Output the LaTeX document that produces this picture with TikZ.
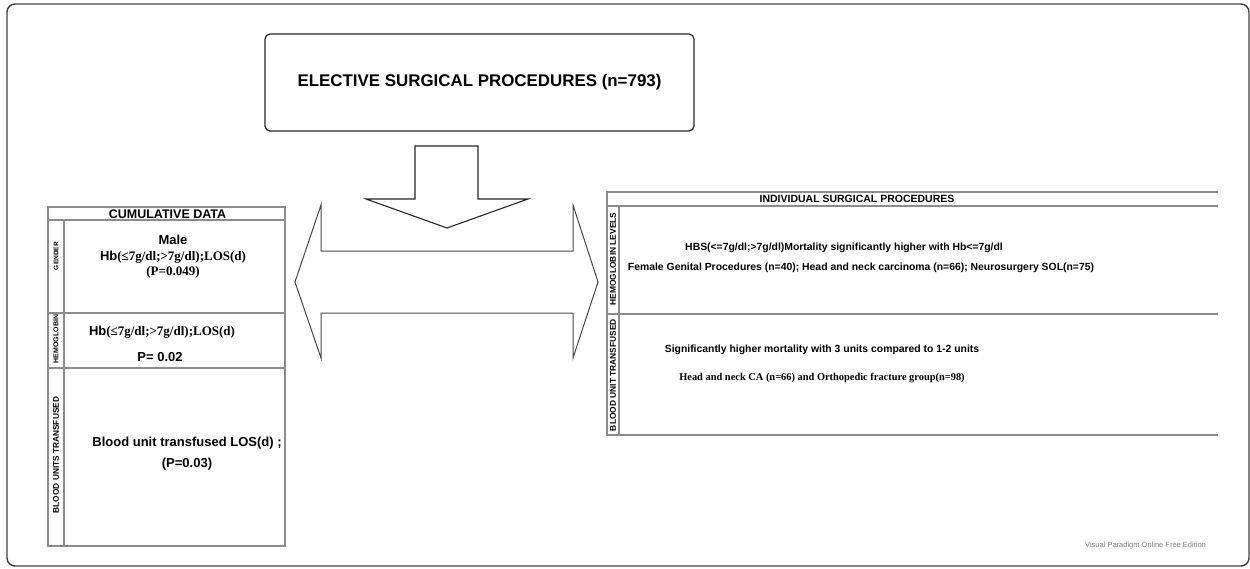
\documentclass[tikz,border=0pt]{standalone}
\usepackage{fontspec}
\setmainfont{Liberation Sans}
\newfontfamily\tnr{Liberation Serif}
\usepackage{tikz}
\usetikzlibrary{positioning}

\begin{document}
\begin{tikzpicture}[x=1pt, y=-1pt]

    \tikzstyle{frame} = [
        draw=black!75,
        line width=1.4pt,
        rounded corners=8pt
    ]
    \tikzstyle{block} = [
        rectangle,
        draw=black!85,
        line width=1.2pt,
        rounded corners=5pt,
        minimum width=429pt,
        minimum height=97pt,
        font=\fontsize{16.9}{19}\selectfont\bfseries
    ]
    \tikzstyle{grid} = [
        draw=black!45,
        line width=1.1pt
    ]
    \tikzstyle{fatarrow} = [
        draw=black!72,
        line width=1pt,
        line join=miter
    ]
    \tikzstyle{hdr} = [
        inner sep=0pt,
        font=\fontsize{10.5}{12}\selectfont\bfseries
    ]
    \tikzstyle{bodyL} = [
        inner sep=0pt,
        align=center,
        font=\fontsize{13}{15.5}\selectfont\bfseries
    ]
    \tikzstyle{bodyR} = [
        inner sep=0pt,
        font=\fontsize{10.4}{12}\selectfont\bfseries
    ]
    \tikzstyle{side} = [
        inner sep=0pt,
        rotate=90,
        font=\bfseries
    ]

    \useasboundingbox (0,0) rectangle (1250,568);
    \draw[frame] (7,4) rectangle (1249,566);

    % top box and arrows
    \node [block] (elec) at (479.5,82.5) {ELECTIVE SURGICAL PROCEDURES (n=793)};

    \draw[fatarrow, draw=black!85, line width=1.1pt]
        (415,146) -- (478,146) -- (478,199) -- (528,199) -- (447,228)
        -- (366,199) -- (415,199) -- cycle;

    \draw[fatarrow]
        (295,282) -- (321,205) -- (321,251) -- (573,251) -- (573,205)
        -- (598,282) -- (573,358) -- (573,313) -- (321,313) -- (321,358) -- cycle;

    % cumulative data table
    \draw[grid] (48,207) rectangle (285,546);
    \draw[grid] (48,220) -- (285,220);
    \draw[grid] (64,220) -- (64,546);
    \draw[grid] (48,313) -- (285,313);
    \draw[grid] (48,368) -- (285,368);

    \node [hdr, font=\fontsize{12.5}{14}\selectfont\bfseries] (cum) at (167.5,214) {CUMULATIVE DATA};
    \node [side, font=\fontsize{6.6}{8}\selectfont\bfseries] (gen) at (56,256) {GENDER};
    \node [side, font=\fontsize{7}{9}\selectfont\bfseries] (hem) at (56,339) {HEMOGLOBIN};
    \node [side, font=\fontsize{8.3}{10}\selectfont\bfseries] (bld) at (56,455) {BLOOD UNITS TRANSFUSED};

    \node [bodyL] (male) at (173,257) {Male\\Hb{\tnr(≤7g/dl;>7g/dl);LOS(d)}\\{\tnr(P=0.049)}};
    \node [bodyL] (hb) at (162,332) {Hb{\tnr(≤7g/dl;>7g/dl);LOS(d)}};
    \node [bodyL] (p2) at (160,357) {P= 0.02};
    \node [bodyL] (blu) at (187,443) {Blood unit transfused LOS(d) ;};
    \node [bodyL, below=9pt of blu] (p3) {(P=0.03)};

    % individual surgical procedures table
    \draw[grid] (1218,192) -- (607,192) -- (607,435) -- (1218,435);
    \draw[grid] (607,206) -- (1218,206);
    \draw[grid] (619,206) -- (619,435);
    \draw[grid] (607,314) -- (1218,314);

    \node [hdr] (ind) at (857,199) {INDIVIDUAL SURGICAL PROCEDURES};
    \node [side, font=\fontsize{8.4}{10}\selectfont\bfseries] (hbl) at (613,259) {HEMOGLOBIN LEVELS};
    \node [side, font=\fontsize{8.4}{10}\selectfont\bfseries] (but) at (613,375) {BLOOD UNIT TRANSFUSED};

    \node [bodyR] (hbs) at (844,248) {HBS(<=7g/dl;>7g/dl)Mortality significantly higher with Hb<=7g/dl};
    \node [bodyR] (fem) at (861,268) {Female Genital Procedures (n=40); Head and neck carcinoma (n=66); Neurosurgery SOL(n=75)};
    \node [bodyR] (sig) at (822,350) {Significantly higher mortality with 3 units compared to 1-2 units};
    \node [bodyR, font=\fontsize{10.4}{12}\selectfont\bfseries\tnr] (hnc) at (822,378) {Head and neck CA (n=66) and Orthopedic fracture group(n=98)};

    \node [inner sep=0pt, text=black!50, font=\fontsize{7.5}{9}\selectfont] (vp) at (1145.5,546) {Visual Paradigm Online Free Edition};

\end{tikzpicture}
\end{document}
